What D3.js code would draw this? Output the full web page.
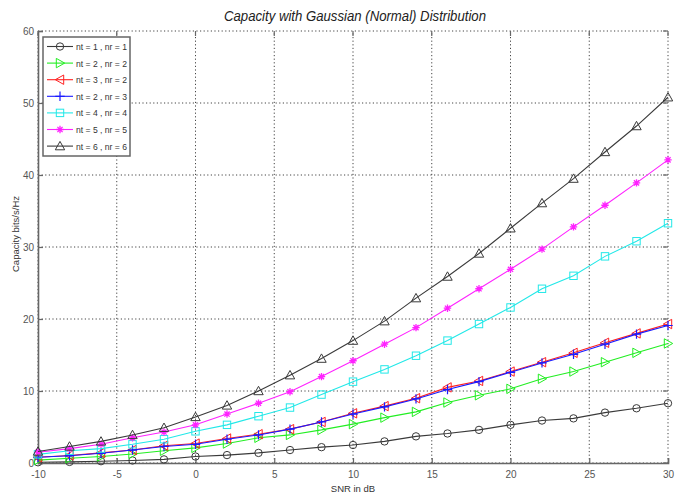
<!DOCTYPE html>
<html><head><meta charset="utf-8">
<script src="https://cdn.jsdelivr.net/npm/d3@7/dist/d3.min.js"></script>
<style>body{margin:0;background:#fff}svg{display:block}text{font-family:Arial,"Liberation Sans",sans-serif}</style>
</head><body>
<svg id="c" width="683" height="497"></svg>
<script>
const snr = [-10,-8,-6,-4,-2,0,2,4,6,8,10,12,14,16,18,20,22,24,26,28,30];
const cap11 = [0.1,0.15,0.25,0.35,0.5,0.9,1.1,1.4,1.8,2.2,2.5,3.0,3.7,4.1,4.6,5.3,5.9,6.2,7.0,7.6,8.3];
const cap22 = [0.4,0.65,0.9,1.25,1.7,2.1,2.7,3.5,3.9,4.6,5.4,6.3,7.1,8.4,9.4,10.3,11.7,12.7,14.0,15.3,16.6];
const cap32 = [0.8,1.05,1.4,1.8,2.4,2.7,3.4,4.0,4.7,5.7,6.9,7.9,9.0,10.5,11.4,12.7,14.0,15.3,16.7,18.0,19.3];
const cap23 = [0.8,1.0,1.35,1.8,2.3,2.6,3.3,3.9,4.7,5.7,6.8,7.8,8.9,10.2,11.3,12.6,13.9,15.1,16.5,17.9,19.1];
const cap44 = [1.2,1.7,2.0,2.6,3.3,4.4,5.3,6.5,7.7,9.5,11.3,13.0,14.9,17.0,19.3,21.6,24.2,26.0,28.7,30.8,33.3];
const cap55 = [1.5,2.0,2.6,3.5,4.3,5.3,6.8,8.3,9.9,12.0,14.2,16.5,18.8,21.5,24.2,26.9,29.7,32.8,35.8,38.9,42.1];
const cap66 = [1.6,2.3,3.0,3.9,4.9,6.4,8.0,10.0,12.2,14.5,17.0,19.7,22.9,25.9,29.1,32.6,36.1,39.5,43.2,46.8,50.8];
const seriesNames = ["nt = 1 , nr = 1","nt = 2 , nr = 2","nt = 3 , nr = 2","nt = 2 , nr = 3","nt = 4 , nr = 4","nt = 5 , nr = 5","nt = 6 , nr = 6"];
const seriesValues = [cap11,cap22,cap32,cap23,cap44,cap55,cap66];
const seriesColors = ["#3a3a3a","#22ee22","#ff2020","#1a1aff","#22e8e8","#ff22ff","#3a3a3a"];
const seriesMarkers = ["circle","tright","tleft","plus","square","star","tup"];
const xTicks = [-10,-5,0,5,10,15,20,25,30];
const yTicks = [0,10,20,30,40,50,60];
const titleText = "Capacity with Gaussian (Normal) Distribution";
const xLabel = "SNR in dB";
const yLabel = "Capacity bits/s/Hz";

const svg = d3.select("#c");
const x = d3.scaleLinear().domain([-10,30]).range([38,668]);
const y = d3.scaleLinear().domain([0,60]).range([463,31]);

// grid
const g = svg.append("g");
g.selectAll(".vg").data(xTicks).join("line")
  .attr("x1",d=>x(d)).attr("x2",d=>x(d)).attr("y1",y(0)).attr("y2",y(60))
  .attr("stroke","#444").attr("stroke-width",1).attr("stroke-dasharray","1.2,2.4");
g.selectAll(".hg").data(yTicks).join("line")
  .attr("x1",x(-10)).attr("x2",x(30)).attr("y1",d=>y(d)).attr("y2",d=>y(d))
  .attr("stroke","#444").attr("stroke-width",1).attr("stroke-dasharray","1.2,2.4");

// axes
const fmt = d=>String(d);
const xAxis = d3.axisBottom(x).tickValues(xTicks).tickSize(-5).tickPadding(8).tickFormat(fmt);
const yAxis = d3.axisLeft(y).tickValues(yTicks).tickSize(-5).tickPadding(4).tickFormat(fmt);
const gx = svg.append("g").attr("transform",`translate(0,${y(0)})`).call(xAxis);
const gy = svg.append("g").attr("transform",`translate(${x(-10)},0)`).call(yAxis);
[gx,gy].forEach(a=>{
  a.select(".domain").attr("stroke","#666").attr("stroke-width",1.6);
  a.selectAll(".tick line").attr("stroke","#666").attr("stroke-width",1.2);
  a.selectAll(".tick text").attr("fill","#555").attr("font-size","10px")
   .attr("font-family","Arial, 'Liberation Sans', sans-serif");
});
// top/right ticks
svg.append("g").selectAll("line").data(xTicks).join("line")
  .attr("x1",d=>x(d)).attr("x2",d=>x(d)).attr("y1",y(60)).attr("y2",y(60)+5)
  .attr("stroke","#666").attr("stroke-width",1.2);
svg.append("g").selectAll("line").data(yTicks).join("line")
  .attr("x1",x(30)-5).attr("x2",x(30)).attr("y1",d=>y(d)).attr("y2",d=>y(d))
  .attr("stroke","#666").attr("stroke-width",1.2);

function marker(sel, type, color){
  const s = 3.7;
  if(type==="circle"){
    sel.append("circle").attr("r",s).attr("fill","none").attr("stroke",color);
  } else if(type==="square"){
    sel.append("rect").attr("x",-s).attr("y",-s).attr("width",2*s).attr("height",2*s).attr("fill","none").attr("stroke",color);
  } else if(type==="plus"){
    sel.append("path").attr("d",`M${-s-1},0H${s+1}M0,${-s-1}V${s+1}`).attr("stroke",color).attr("stroke-width",1.2);
  } else if(type==="star"){
    const r=s;
    sel.append("path").attr("d",`M${-r},0H${r}M0,${-r}V${r}M${-r*0.7},${-r*0.7}L${r*0.7},${r*0.7}M${-r*0.7},${r*0.7}L${r*0.7},${-r*0.7}`)
      .attr("stroke",color).attr("stroke-width",1.3);
  } else {
    let pts;
    if(type==="tup") pts=[[0,-s-1],[s+1,s],[-s-1,s]];
    if(type==="tright") pts=[[s+1,0],[-s,-s-1],[-s,s+1]];
    if(type==="tleft") pts=[[-s-1,0],[s,-s-1],[s,s+1]];
    sel.append("path").attr("d","M"+pts.map(p=>p.join(",")).join("L")+"Z").attr("fill","none").attr("stroke",color);
  }
}

const line = d3.line().x((d,i)=>x(snr[i])).y(d=>y(d));
seriesValues.forEach((vals,k)=>{
  const sg = svg.append("g");
  sg.append("path").datum(vals).attr("d",line).attr("fill","none")
    .attr("stroke",seriesColors[k]).attr("stroke-width",1.1);
  sg.selectAll("g.m").data(vals).join("g").attr("class","m")
    .attr("transform",(d,i)=>`translate(${x(snr[i])},${y(d)})`)
    .each(function(){ marker(d3.select(this), seriesMarkers[k], seriesColors[k]); });
});

// legend
const lg = svg.append("g");
lg.append("rect").attr("x",43).attr("y",37).attr("width",87).attr("height",119)
  .attr("fill","#fff").attr("stroke","#666").attr("stroke-width",1.5);
seriesNames.forEach((n,k)=>{
  const yy = 46.5 + k*16.6;
  lg.append("line").attr("x1",47).attr("x2",73).attr("y1",yy).attr("y2",yy).attr("stroke",seriesColors[k]).attr("stroke-width",1.1);
  marker(lg.append("g").attr("transform",`translate(60,${yy})`), seriesMarkers[k], seriesColors[k]);
  lg.append("text").attr("x",76).attr("y",yy+3.5).attr("font-size","9.5px").attr("fill","#333")
    .attr("textLength",51).attr("lengthAdjust","spacingAndGlyphs").text(n);
});

svg.append("text").attr("x",355).attr("y",21).attr("text-anchor","middle")
  .attr("font-size","14px").attr("font-style","italic").attr("fill","#222")
  .attr("textLength",262).attr("lengthAdjust","spacingAndGlyphs").text(titleText);
svg.append("text").attr("x",353).attr("y",492).attr("text-anchor","middle")
  .attr("font-size","9.5px").attr("fill","#333").text(xLabel);
svg.append("text").attr("transform","translate(19,234) rotate(-90)").attr("text-anchor","middle")
  .attr("font-size","9.5px").attr("fill","#333").text(yLabel);
</script>
</body></html>
